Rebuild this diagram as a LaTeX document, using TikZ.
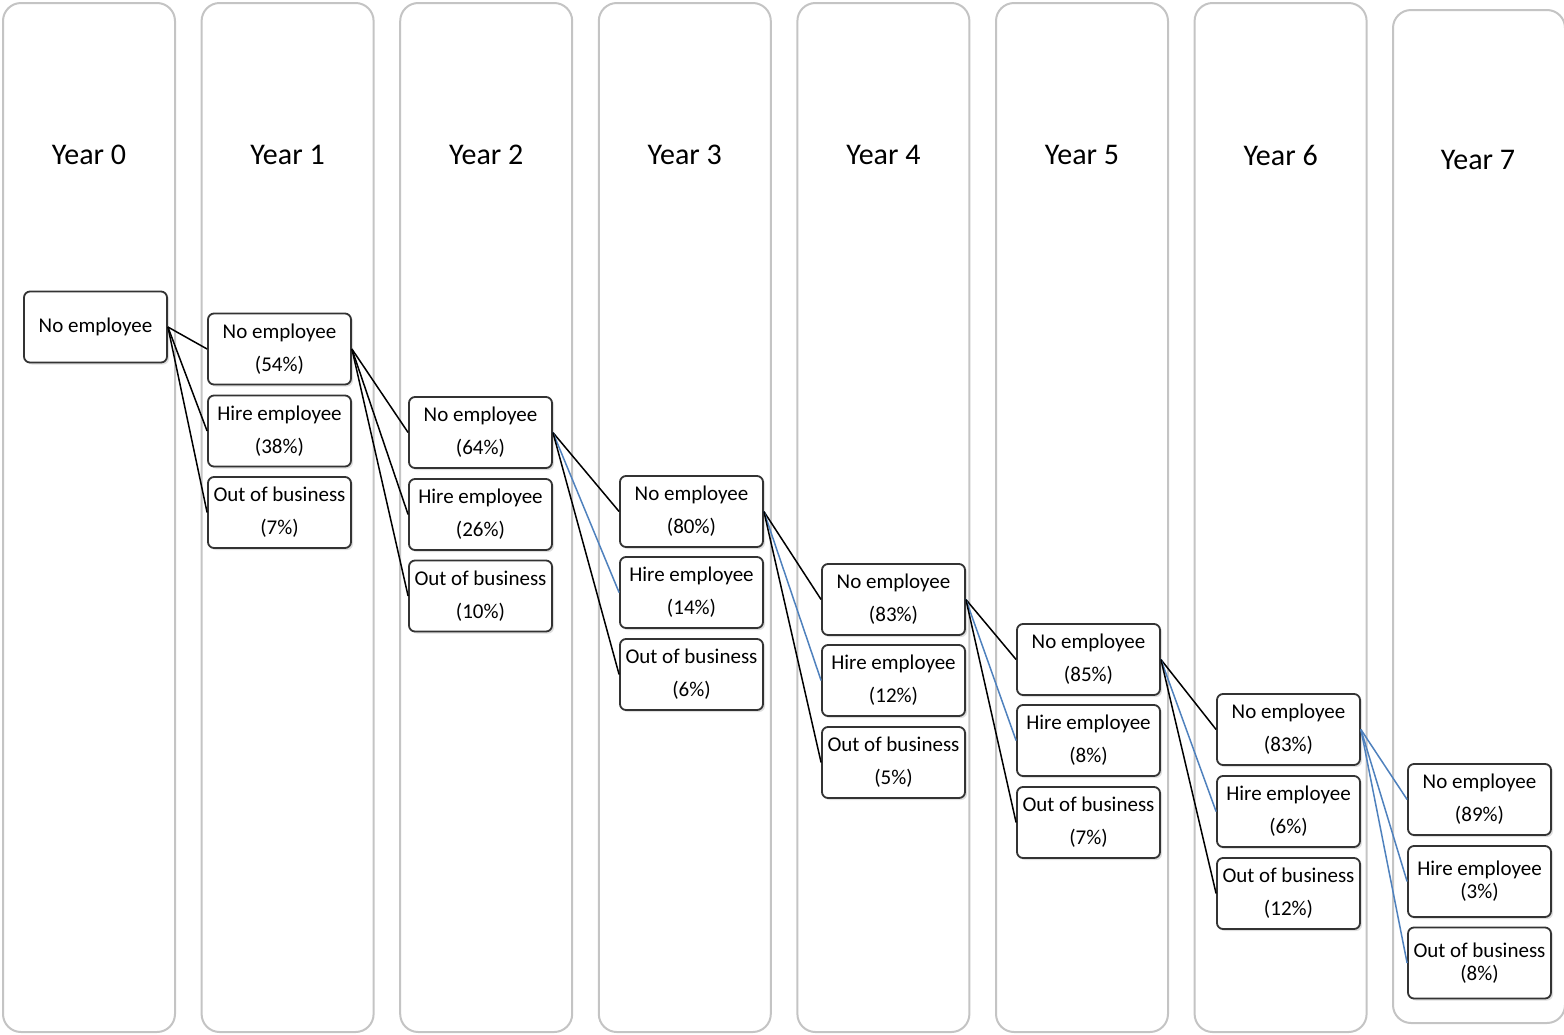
\documentclass[tikz,border=0pt]{standalone}
\usepackage{fontspec}
\setmainfont{Carlito}
\usetikzlibrary{shadows}
\definecolor{lanegray}{HTML}{C4C4C4}
\definecolor{linkblue}{HTML}{4F81BD}
\definecolor{boxgray}{HTML}{333333}

\begin{document}
\begin{tikzpicture}[x=1pt, y=-1pt,
    lane/.style={draw=lanegray, line width=2pt, rounded corners=18pt, fill=white},
    yearlabel/.style={font=\fontsize{30}{36}\selectfont},
    stagebox/.style={draw=boxgray, line width=1.8pt, rounded corners=6pt, fill=white,
        minimum width=143pt, minimum height=71pt, inner sep=0pt, align=center,
        font=\fontsize{21}{33}\selectfont,
        drop shadow={opacity=0.25, shadow xshift=2pt, shadow yshift=-2pt}},
    tight/.style={font=\fontsize{21}{23}\selectfont},
    link/.style={line width=1.5pt, black},
    bluelink/.style={line width=1.5pt, linkblue}]
    \useasboundingbox (0,0) rectangle (1564,1034);

    % Draw year lanes
    \foreach \i in {0,...,6}
        \draw[lane] ({3+198.6*\i},3) rectangle ++(172,1029);
    \draw[lane] (1393,10) rectangle (1565,1023);

    % Year titles
    \foreach \i in {0,...,6}
        \node[yearlabel] (year\i) at ({89+198.6*\i},155) {Year \i};
    \node[yearlabel] (year7) at (1478,160) {Year 7};

    % Year 0
    \node[stagebox] (y0no) at (95.5,327) {No employee};

    % Year 1
    \node[stagebox] (y1no) at (279.5,349) {No employee\\(54\%)};
    \node[stagebox] (y1hire) at (279.5,431) {Hire employee\\(38\%)};
    \node[stagebox] (y1out) at (279.5,512.5) {Out of business\\(7\%)};

    % Year 2
    \node[stagebox] (y2no) at (480.5,432.5) {No employee\\(64\%)};
    \node[stagebox] (y2hire) at (480.5,514.5) {Hire employee\\(26\%)};
    \node[stagebox] (y2out) at (480.5,596) {Out of business\\(10\%)};

    % Year 3
    \node[stagebox] (y3no) at (691.5,511.5) {No employee\\(80\%)};
    \node[stagebox] (y3hire) at (691.5,592.5) {Hire employee\\(14\%)};
    \node[stagebox] (y3out) at (691.5,674.5) {Out of business\\(6\%)};

    % Year 4
    \node[stagebox] (y4no) at (893.5,599.5) {No employee\\(83\%)};
    \node[stagebox] (y4hire) at (893.5,680.5) {Hire employee\\(12\%)};
    \node[stagebox] (y4out) at (893.5,762.5) {Out of business\\(5\%)};

    % Year 5
    \node[stagebox] (y5no) at (1088.5,659.5) {No employee\\(85\%)};
    \node[stagebox] (y5hire) at (1088.5,740.5) {Hire employee\\(8\%)};
    \node[stagebox] (y5out) at (1088.5,822.5) {Out of business\\(7\%)};

    % Year 6
    \node[stagebox] (y6no) at (1288.5,729.5) {No employee\\(83\%)};
    \node[stagebox] (y6hire) at (1288.5,811.5) {Hire employee\\(6\%)};
    \node[stagebox] (y6out) at (1288.5,893.5) {Out of business\\(12\%)};

    % Year 7
    \node[stagebox] (y7no) at (1479.5,799.5) {No employee\\(89\%)};
    \node[stagebox, tight] (y7hire) at (1479.5,881.5) {Hire employee\\(3\%)};
    \node[stagebox, tight] (y7out) at (1479.5,963) {Out of business\\(8\%)};

    % Transitions
    \foreach \t in {no, hire, out}
        \draw[link] (y0no.east) -- (y1\t.west);
    \foreach \t in {no, hire, out}
        \draw[link] (y1no.east) -- (y2\t.west);
    \draw[link] (y2no.east) -- (y3no.west);
    \draw[bluelink] (y2no.east) -- (y3hire.west);
    \draw[link] (y2no.east) -- (y3out.west);
    \draw[link] (y3no.east) -- (y4no.west);
    \draw[bluelink] (y3no.east) -- (y4hire.west);
    \draw[link] (y3no.east) -- (y4out.west);
    \draw[link] (y4no.east) -- (y5no.west);
    \draw[bluelink] (y4no.east) -- (y5hire.west);
    \draw[link] (y4no.east) -- (y5out.west);
    \draw[link] (y5no.east) -- (y6no.west);
    \draw[bluelink] (y5no.east) -- (y6hire.west);
    \draw[link] (y5no.east) -- (y6out.west);
    \foreach \t in {no, hire, out}
        \draw[bluelink] (y6no.east) -- (y7\t.west);
\end{tikzpicture}
\end{document}
